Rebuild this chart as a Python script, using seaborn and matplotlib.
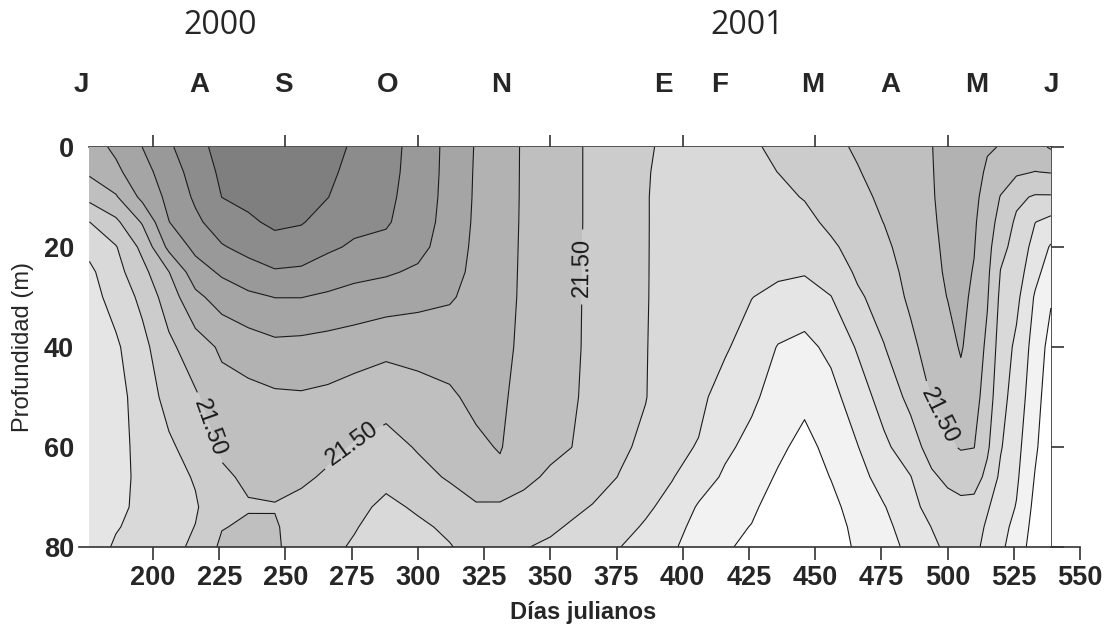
import numpy as np
import matplotlib
matplotlib.use("Agg")
import matplotlib.pyplot as plt
import seaborn as sns

# dias julianos (columnas) y profundidad (filas) de la seccion
dias = [176, 186, 196, 206, 216, 226, 236, 246, 256, 266, 276, 288, 300, 312,
        322, 331, 340, 350, 358, 366, 376, 386, 396, 406, 416, 426, 436, 446,
        456, 466, 476, 486, 494, 500, 505, 510, 515, 520, 526, 533, 539]
profundidad = [0, 5, 10, 15, 20, 25, 30, 40, 50, 60, 66, 72, 76, 80]

# sigma-t, una lista por dia (superficie -> fondo)
sigma_t = [
    [21.112, 21.212, 21.430, 21.752, 21.932, 22.050, 22.088, 22.125, 22.138, 22.150, 22.150, 22.150, 22.150, 22.150],  # 176
    [20.950, 21.055, 21.275, 21.550, 21.765, 21.838, 21.912, 22.038, 22.088, 22.100, 22.100, 22.075, 22.020, 21.962],  # 186
    [20.748, 20.838, 20.938, 21.225, 21.438, 21.575, 21.688, 21.825, 21.888, 21.912, 21.925, 21.925, 21.912, 21.888],  # 196
    [20.540, 20.625, 20.688, 20.755, 20.938, 21.255, 21.375, 21.555, 21.668, 21.788, 21.838, 21.850, 21.838, 21.812],  # 206
    [20.325, 20.400, 20.462, 20.550, 20.688, 20.862, 21.062, 21.362, 21.530, 21.650, 21.730, 21.775, 21.745, 21.712],  # 216
    [20.175, 20.205, 20.248, 20.375, 20.520, 20.712, 20.888, 21.212, 21.338, 21.462, 21.538, 21.575, 21.512, 21.450],  # 226
    [20.112, 20.150, 20.200, 20.282, 20.425, 20.600, 20.800, 21.125, 21.325, 21.412, 21.462, 21.518, 21.462, 21.438],  # 236
    [20.088, 20.125, 20.162, 20.212, 20.325, 20.525, 20.745, 21.062, 21.288, 21.388, 21.438, 21.512, 21.475, 21.450],  # 246
    [20.100, 20.138, 20.180, 20.232, 20.375, 20.538, 20.745, 21.075, 21.275, 21.388, 21.462, 21.562, 21.612, 21.650],  # 256
    [20.150, 20.200, 20.245, 20.350, 20.462, 20.612, 20.788, 21.100, 21.300, 21.445, 21.530, 21.600, 21.650, 21.688],  # 266
    [20.290, 20.325, 20.375, 20.438, 20.532, 20.688, 20.825, 21.138, 21.350, 21.515, 21.612, 21.688, 21.732, 21.780],  # 276
    [20.418, 20.430, 20.450, 20.475, 20.562, 20.720, 20.875, 21.188, 21.400, 21.588, 21.688, 21.800, 21.862, 21.900],  # 288
    [20.582, 20.588, 20.600, 20.625, 20.675, 20.788, 20.925, 21.168, 21.338, 21.480, 21.575, 21.720, 21.788, 21.825],  # 300
    [20.825, 20.830, 20.838, 20.850, 20.875, 20.912, 20.975, 21.138, 21.288, 21.400, 21.475, 21.612, 21.712, 21.762],  # 312
    [21.018, 21.025, 21.030, 21.038, 21.050, 21.062, 21.075, 21.125, 21.188, 21.300, 21.400, 21.520, 21.600, 21.675],  # 322
    [21.112, 21.118, 21.125, 21.130, 21.138, 21.145, 21.150, 21.175, 21.205, 21.232, 21.312, 21.538, 21.625, 21.700],  # 331
    [21.280, 21.280, 21.280, 21.282, 21.285, 21.288, 21.292, 21.305, 21.338, 21.400, 21.462, 21.550, 21.638, 21.738],  # 340
    [21.380, 21.380, 21.380, 21.382, 21.382, 21.385, 21.388, 21.400, 21.425, 21.462, 21.525, 21.625, 21.712, 21.788],  # 350
    [21.460, 21.460, 21.460, 21.460, 21.460, 21.462, 21.462, 21.465, 21.475, 21.498, 21.600, 21.700, 21.775, 21.838],  # 358
    [21.535, 21.535, 21.535, 21.535, 21.538, 21.538, 21.540, 21.542, 21.550, 21.588, 21.650, 21.762, 21.825, 21.888],  # 366
    [21.625, 21.625, 21.625, 21.625, 21.628, 21.628, 21.630, 21.638, 21.662, 21.705, 21.758, 21.850, 21.925, 21.995],  # 376
    [21.712, 21.732, 21.738, 21.738, 21.738, 21.738, 21.738, 21.740, 21.742, 21.800, 21.875, 21.962, 22.025, 22.075],  # 386
    [21.825, 21.825, 21.825, 21.825, 21.828, 21.832, 21.838, 21.862, 21.900, 21.950, 21.988, 22.075, 22.150, 22.212],  # 396
    [21.862, 21.862, 21.865, 21.868, 21.870, 21.872, 21.875, 21.900, 21.950, 22.012, 22.125, 22.275, 22.338, 22.388],  # 406
    [21.850, 21.855, 21.862, 21.875, 21.888, 21.900, 21.925, 21.975, 22.088, 22.200, 22.288, 22.375, 22.438, 22.475],  # 416
    [21.775, 21.800, 21.825, 21.862, 21.900, 21.950, 21.995, 22.100, 22.200, 22.325, 22.388, 22.462, 22.508, 22.550],  # 426
    [21.712, 21.748, 21.800, 21.850, 21.900, 21.962, 22.062, 22.262, 22.362, 22.450, 22.525, 22.600, 22.638, 22.675],  # 436
    [21.625, 21.688, 21.738, 21.812, 21.900, 21.980, 22.112, 22.312, 22.438, 22.575, 22.625, 22.662, 22.680, 22.700],  # 446
    [21.550, 21.600, 21.650, 21.700, 21.788, 21.900, 22.005, 22.195, 22.325, 22.425, 22.492, 22.562, 22.600, 22.625],  # 456
    [21.475, 21.512, 21.562, 21.612, 21.662, 21.712, 21.788, 21.975, 22.125, 22.258, 22.338, 22.400, 22.438, 22.462],  # 466
    [21.395, 21.425, 21.455, 21.495, 21.550, 21.605, 21.650, 21.758, 21.900, 22.050, 22.150, 22.262, 22.312, 22.350],  # 476
    [21.315, 21.325, 21.345, 21.362, 21.388, 21.420, 21.455, 21.562, 21.688, 21.862, 22.008, 22.088, 22.138, 22.188],  # 486
    [21.255, 21.260, 21.265, 21.275, 21.288, 21.300, 21.325, 21.388, 21.488, 21.650, 21.788, 21.900, 21.995, 22.050],  # 494
    [21.175, 21.180, 21.188, 21.200, 21.212, 21.225, 21.245, 21.325, 21.412, 21.538, 21.700, 21.838, 21.900, 21.950],  # 500
    [21.150, 21.155, 21.162, 21.170, 21.180, 21.190, 21.200, 21.230, 21.325, 21.482, 21.650, 21.812, 21.888, 21.938],  # 505
    [21.188, 21.200, 21.212, 21.225, 21.240, 21.262, 21.288, 21.350, 21.400, 21.495, 21.650, 21.825, 21.888, 21.938],  # 510
    [21.238, 21.270, 21.312, 21.362, 21.412, 21.450, 21.480, 21.550, 21.625, 21.712, 21.812, 21.975, 22.038, 22.075],  # 515
    [21.255, 21.362, 21.512, 21.600, 21.688, 21.758, 21.800, 21.862, 21.912, 21.980, 22.050, 22.125, 22.162, 22.200],  # 520
    [21.375, 21.462, 21.700, 21.788, 21.825, 21.875, 21.938, 22.050, 22.112, 22.175, 22.212, 22.262, 22.325, 22.375],  # 526
    [21.325, 21.505, 21.775, 21.995, 22.088, 22.175, 22.275, 22.350, 22.400, 22.462, 22.512, 22.562, 22.588, 22.612],  # 533
    [21.225, 21.488, 21.775, 22.075, 22.275, 22.375, 22.475, 22.588, 22.650, 22.675, 22.688, 22.688, 22.688, 22.688],  # 539
]

niveles = [20.25, 20.50, 20.75, 21.00, 21.25, 21.50, 21.75, 22.00, 22.25, 22.50]
nivel_rotulado = 21.50
pos_rotulos = [(222, 56), (276, 60), (362, 24), (496, 54)]

meses = ["J", "A", "S", "O", "N", "E", "F", "M", "A", "M", "J"]
dias_meses = [173, 217.4, 249.1, 288.5, 331.6, 392.7, 413.8, 448.9, 478.5, 510.9, 539.2]
anios = ["2000", "2001"]
dias_anios = [225.5, 424.5]

sns.set_style("ticks")
plt.rcParams["font.family"] = ["Liberation Sans", "DejaVu Sans"]

Z = np.array(sigma_t).T
grises = sns.blend_palette(["#7f7f7f", "#ffffff"], n_colors=len(niveles) + 1)

x0, x1 = 172, 550
fig = plt.figure(figsize=(11.1, 6.25), dpi=100)
ax = fig.add_axes([0.071, 0.1248, 0.902, 0.64])

ax.contourf(dias, profundidad, Z, levels=[19.0] + niveles + [23.5], colors=grises)
otros = [n for n in niveles if n != nivel_rotulado]
ax.contour(dias, profundidad, Z, levels=otros, colors="#1a1a1a", linewidths=0.8)
cs6 = ax.contour(dias, profundidad, Z, levels=[nivel_rotulado], colors="#1a1a1a", linewidths=0.8)
ax.clabel(cs6, manual=pos_rotulos, fmt="%.2f", fontsize=17, inline=True, inline_spacing=8)
# el eje y invertido deja los rotulos girados al reves
for t in cs6.labelTexts:
    t.set_rotation(-t.get_rotation())

ax.set_xlim(x0, x1)
ax.set_ylim(80, 0)
ax.set_xticks(np.arange(200, 551, 25))
ax.set_yticks([0, 20, 40, 60, 80])
for lab in ax.get_xticklabels() + ax.get_yticklabels():
    lab.set_fontweight("bold")
    lab.set_fontsize(19.5)
ax.tick_params(axis="x", length=9, width=1.2, color="#333333", pad=4)
ax.tick_params(axis="y", length=0, pad=3.5)
for s in ["left", "top", "right"]:
    ax.spines[s].set_visible(False)
ax.spines["bottom"].set_color("#333333")
ax.spines["bottom"].set_linewidth(1.2)

# eje superior (ticks cada 50) y eje derecho al final de los datos
top = ax.secondary_xaxis("top")
top.set_xticks(np.arange(200, 501, 50))
top.tick_params(labeltop=False, length=9, width=1.2, color="#333333")
top.spines["top"].set_bounds(dias[0], dias[-1])
top.spines["top"].set_color("#333333")
top.spines["top"].set_linewidth(1.2)

der = ax.secondary_yaxis((dias[-1] - x0) / (x1 - x0))
der.set_yticks([0, 20, 40, 60, 80])
der.tick_params(labelright=False, labelleft=False, length=9, width=1.2, color="#333333")
der.spines["right"].set_color("#333333")
der.spines["right"].set_linewidth(1.2)

tr = ax.get_xaxis_transform()
for m, d in zip(meses, dias_meses):
    ax.text(d, 1.155, m, transform=tr, ha="center", va="center",
            fontsize=20, fontweight="bold")
for a, d in zip(anios, dias_anios):
    ax.text(d, 1.3025, a, transform=tr, ha="center", va="center",
            fontsize=23, family=["Open Sans", "DejaVu Sans"])

fig.text(23 / 1110, 1 - 347 / 625, "Profundidad (m)", rotation=90,
         ha="center", va="center", fontsize=17)
fig.text(583 / 1110, 1 - 613 / 625, "Días julianos", ha="center", va="center",
         fontsize=17, fontweight="bold")

fig.savefig("out.png", dpi=100)
